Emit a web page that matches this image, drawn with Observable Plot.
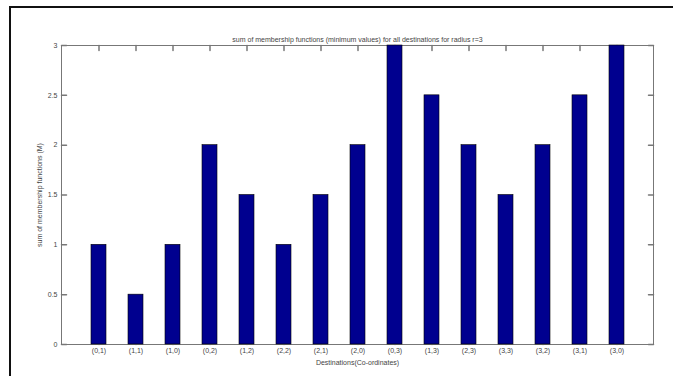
<!DOCTYPE html>
<html>
<head>
<meta charset="utf-8">
<script src="https://cdn.jsdelivr.net/npm/d3@7"></script>
<script src="https://cdn.jsdelivr.net/npm/@observablehq/plot@0.6"></script>
<style>
  html, body { margin: 0; padding: 0; background: #fff; width: 673px; height: 376px; overflow: hidden; }
  #wrap { position: relative; width: 673px; height: 376px; }
  #edge { position: absolute; left: 9px; top: 6px; width: 700px; height: 400px;
          border-top: 2px solid #111; border-left: 2px solid #111; }
  #chart { position: absolute; left: 0; top: 0; }
</style>
</head>
<body>
<div id="wrap"><div id="edge"></div><div id="chart"></div></div>
<script>
// Destinations on the grid and the summed membership (minimum values) for each
const destinations = ["(0,1)", "(1,1)", "(1,0)", "(0,2)", "(1,2)", "(2,2)", "(2,1)", "(2,0)",
                      "(0,3)", "(1,3)", "(2,3)", "(3,3)", "(3,2)", "(3,1)", "(3,0)"];
const membershipSum = [1, 0.5, 1, 2, 1.5, 1, 1.5, 2, 3, 2.5, 2, 1.5, 2, 2.5, 3];
const yTicks = [0, 0.5, 1, 1.5, 2, 2.5, 3];

const titleText = "sum of membership functions (minimum values) for all destinations for radius r=3";
const yLabel = "sum of membership functions (M)";
const xLabel = "Destinations(Co-ordinates)";

const rows = destinations.map((d, i) => ({dest: d, m: membershipSum[i]}));

const axisColor = "#777";
const textColor = "#444";

// plain straight tick stroke (no arrowhead)
const tickShape = {
  draw(context, l) {
    context.moveTo(0, 0);
    context.lineTo(0, -l);
  }
};

const chart = Plot.plot({
  width: 673,
  height: 376,
  marginLeft: 61,
  marginRight: 20,
  marginTop: 45,
  marginBottom: 32,
  style: {
    fontFamily: "'Liberation Sans', Arial, sans-serif",
    fontSize: "7px",
    color: textColor,
    background: "transparent",
    overflow: "visible"
  },
  x: {type: "band", domain: destinations, paddingInner: 0.595, paddingOuter: 0.7975},
  y: {domain: [0, 3]},
  marks: [
    Plot.frame({stroke: axisColor}),
    // inward ticks on all four sides of the box
    Plot.vector(yTicks, {y: d => d, frameAnchor: "left", rotate: 90, length: 5, anchor: "start", shape: tickShape, stroke: axisColor}),
    Plot.vector(yTicks, {y: d => d, frameAnchor: "right", rotate: -90, length: 5, anchor: "start", shape: tickShape, stroke: axisColor}),
    Plot.vector(destinations, {x: d => d, frameAnchor: "top", rotate: 180, length: 5, anchor: "start", shape: tickShape, stroke: axisColor}),
    Plot.vector(destinations, {x: d => d, frameAnchor: "bottom", rotate: 0, length: 5, anchor: "start", shape: tickShape, stroke: axisColor}),
    Plot.barY(rows, {x: "dest", y: "m", fill: "#00008f", stroke: "#000", strokeWidth: 0.6}),
    Plot.axisY({
      ticks: yTicks, tickSize: 0, tickPadding: 4, tickFormat: d => String(d),
      label: yLabel, labelAnchor: "center", labelArrow: "none", labelOffset: 24
    }),
    Plot.axisX({
      tickSize: 0, tickPadding: 4,
      label: xLabel, labelAnchor: "center", labelArrow: "none", labelOffset: 20
    }),
    Plot.text([titleText], {frameAnchor: "top", dy: -8, text: d => d, fill: textColor})
  ]
});

document.getElementById("chart").appendChild(chart);
</script>
</body>
</html>
